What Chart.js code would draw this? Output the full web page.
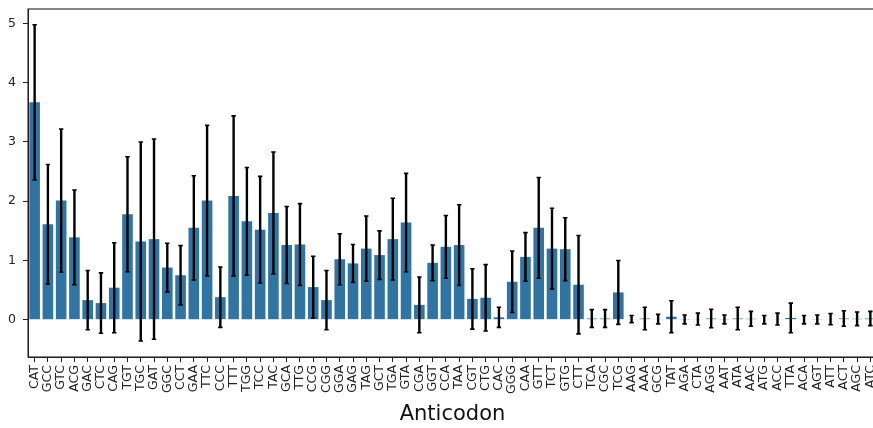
<!DOCTYPE html>
<html>
<head>
<meta charset="utf-8">
<script src="https://cdn.jsdelivr.net/npm/chart.js@4.4.1/dist/chart.umd.min.js"></script>
<style>
  html, body { margin: 0; padding: 0; background: #fff; overflow: hidden; }
  #wrap { width: 873px; height: 428px; overflow: hidden; position: relative; }
  canvas { display: block; }
</style>
</head>
<body>
<div id="wrap"><canvas id="c" width="890" height="428"></canvas></div>
<script>
const anticodons = ["CAT","GCC","GTC","ACG","GAC","CTC","CAG","TGT","TGC","GAT","GGC","CCT","GAA","TTC","CCC","TTT",
  "TGG","TCC","TAC","GCA","TTG","CCG","CGG","GGA","GAG","TAG","GCT","TGA","GTA","CGA","GGT","CCA",
  "TAA","CGT","CTG","CAC","GGG","CAA","GTT","TCT","GTG","CTT","TCA","CGC","TCG","AAG","AAA","GCG",
  "TAT","AGA","CTA","AGG","AAT","ATA","AAC","ATG","ACC","TTA","ACA","AGT","ATT","ACT","AGC","ATC"];
const meanValues = [3.67,1.61,2.01,1.39,0.33,0.28,0.54,1.78,1.32,1.36,0.88,0.75,1.55,2.01,0.38,2.09,
  1.66,1.52,1.80,1.26,1.27,0.55,0.33,1.02,0.95,1.20,1.09,1.36,1.64,0.25,0.96,1.23,
  1.26,0.35,0.37,0.04,0.64,1.06,1.55,1.20,1.19,0.59,0.02,0.02,0.46,0.01,0.02,0.01,
  0.05,0.005,0.01,0.02,0.005,0.02,0.015,0.0,0.01,0.03,0.0,0.005,0.01,0.02,0.015,0.02];
const errValues = [1.31,1.01,1.21,0.80,0.50,0.51,0.76,0.97,1.68,1.69,0.41,0.50,0.88,1.27,0.51,1.35,
  0.91,0.90,1.03,0.65,0.69,0.52,0.50,0.43,0.32,0.55,0.41,0.69,0.83,0.47,0.30,0.53,
  0.68,0.51,0.56,0.17,0.52,0.41,0.85,0.68,0.53,0.83,0.15,0.15,0.54,0.06,0.19,0.08,
  0.27,0.075,0.10,0.155,0.075,0.19,0.125,0.07,0.10,0.25,0.07,0.075,0.095,0.13,0.115,0.12];
const yTicks = [0,1,2,3,4,5];
const xTitle = "Anticodon";

const errorBars = {
  id: 'errorBars',
  afterDatasetsDraw(chart) {
    const meta = chart.getDatasetMeta(0);
    const ys = chart.scales.y;
    const ctx = chart.ctx;
    ctx.save();
    ctx.strokeStyle = '#000';
    ctx.lineCap = 'butt';
    meta.data.forEach((bar, i) => {
      const x = bar.x;
      const yt = ys.getPixelForValue(meanValues[i] + errValues[i]);
      const yb = ys.getPixelForValue(meanValues[i] - errValues[i]);
      ctx.lineWidth = 2.4;
      ctx.beginPath();
      ctx.moveTo(x, yt); ctx.lineTo(x, yb);
      ctx.stroke();
      ctx.lineWidth = 1.6;
      ctx.beginPath();
      ctx.moveTo(x - 2.2, yt); ctx.lineTo(x + 2.2, yt);
      ctx.moveTo(x - 2.2, yb); ctx.lineTo(x + 2.2, yb);
      ctx.stroke();
    });
    ctx.restore();
  }
};

const frame = {
  id: 'frame',
  afterDraw(chart) {
    const a = chart.chartArea, ctx = chart.ctx;
    ctx.save();
    ctx.strokeStyle = '#222';
    ctx.lineWidth = 1.1;
    ctx.strokeRect(a.left, a.top, a.right - a.left, a.bottom - a.top);
    ctx.restore();
  }
};

function zeroPad(s) { s.paddingTop = 0; s.paddingBottom = 0; s.paddingLeft = 0; s.paddingRight = 0; }

new Chart(document.getElementById('c'), {
  type: 'bar',
  data: {
    labels: anticodons,
    datasets: [{
      data: meanValues,
      backgroundColor: '#3274a1',
      borderWidth: 0,
      barPercentage: 0.8,
      categoryPercentage: 1.0
    }]
  },
  options: {
    responsive: false,
    animation: false,
    devicePixelRatio: 1,
    layout: { padding: { left: 0, top: 9, right: 13, bottom: 0 } },
    plugins: { legend: { display: false }, tooltip: { enabled: false } },
    scales: {
      x: {
        type: 'category',
        offset: true,
        grid: { display: true, drawOnChartArea: false, drawTicks: true, tickLength: 5, offset: false, color: '#222', lineWidth: 1 },
        border: { display: true, color: '#222', width: 1 },
        ticks: {
          autoSkip: false, maxRotation: 90, minRotation: 90, padding: 3,
          color: '#222', font: { family: 'DejaVu Sans', size: 12.5 }
        },
        title: {
          display: true, text: xTitle, color: '#111',
          font: { family: 'DejaVu Sans', size: 21 }, padding: { top: 0, bottom: 1 }
        },
        afterFit(s) { s.height = 71; zeroPad(s); }
      },
      y: {
        min: -0.63, max: 5.245,
        grid: { display: true, drawOnChartArea: false, drawTicks: true, tickLength: 5, color: '#222', lineWidth: 1 },
        border: { display: true, color: '#222', width: 1 },
        ticks: { color: '#222', padding: 7, font: { family: 'DejaVu Sans', size: 12.5 } },
        afterBuildTicks(s) { s.ticks = yTicks.map(v => ({ value: v })); },
        afterFit(s) { s.width = 28; zeroPad(s); }
      }
    }
  },
  plugins: [errorBars, frame]
});
</script>
</body>
</html>
